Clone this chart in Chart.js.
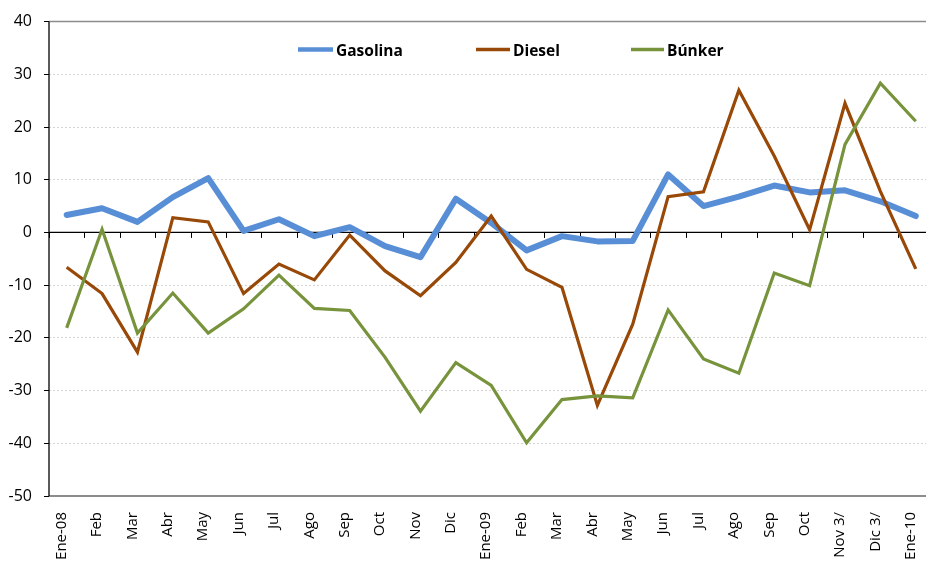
<!DOCTYPE html>
<html>
<head>
<meta charset="utf-8">
<script src="https://cdn.jsdelivr.net/npm/chart.js@4/dist/chart.umd.min.js"></script>
<style>
  html, body { margin: 0; padding: 0; background: #fff; overflow: hidden; width: 926px; height: 564px; }
  #wrap { width: 950px; height: 564px; position: relative; }
</style>
</head>
<body>
<div id="wrap"><canvas id="c" width="950" height="564"></canvas></div>
<script>
const categories = ["Ene-08","Feb","Mar","Abr","May","Jun","Jul","Ago","Sep","Oct","Nov","Dic",
  "Ene-09","Feb","Mar","Abr","May","Jun","Jul","Ago","Sep","Oct","Nov 3/","Dic 3/","Ene-10"];
const gasolina = [3.3, 4.6, 2.0, 6.7, 10.3, 0.3, 2.5, -0.7, 1.0, -2.6, -4.7, 6.4,
  1.8, -3.4, -0.7, -1.7, -1.6, 11.0, 5.0, 6.8, 8.9, 7.6, 8.0, 5.9, 3.1];
const diesel = [-6.6, -11.6, -22.7, 2.8, 2.0, -11.6, -6.0, -9.0, -0.5, -7.3, -12.0, -5.7,
  3.1, -7.0, -10.4, -32.8, -17.4, 6.8, 7.7, 27.0, 14.5, 0.5, 24.5, 7.8, -6.9];
const bunker = [-18.1, 0.6, -19.1, -11.5, -19.1, -14.5, -8.1, -14.4, -14.8, -23.7, -33.9, -24.7,
  -29.0, -39.9, -31.7, -31.0, -31.4, -14.7, -24.0, -26.7, -7.7, -10.1, 16.7, 28.3, 21.1];
const seriesNames = ["Gasolina", "Diesel", "Búnker"];
const yTicks = [40, 30, 20, 10, 0, -10, -20, -30, -40, -50];

const FONT = "'Open Sans', 'Noto Sans', sans-serif";
const legendPos = [{x1: 298, x2: 333, tx: 336}, {x1: 476, x2: 510, tx: 513}, {x1: 631, x2: 664, tx: 667}];
const legendY = 49.5;

const axesPlugin = {
  id: 'axesDeco',
  beforeDatasetsDraw(chart) {
    const {ctx, chartArea: a, scales: {x, y}} = chart;
    const right = chart.width;
    ctx.save();
    ctx.strokeStyle = '#8C8C8C'; ctx.lineWidth = 1.5;
    ctx.beginPath(); ctx.moveTo(a.left, y.getPixelForValue(40)); ctx.lineTo(right, y.getPixelForValue(40)); ctx.stroke();
    ctx.lineWidth = 2;
    ctx.beginPath(); ctx.moveTo(a.left, y.getPixelForValue(-50)); ctx.lineTo(right, y.getPixelForValue(-50)); ctx.stroke();
    const y0 = y.getPixelForValue(0);
    ctx.strokeStyle = '#000'; ctx.lineWidth = 1.3;
    ctx.beginPath(); ctx.moveTo(a.left, y0); ctx.lineTo(right, y0); ctx.stroke();
    ctx.lineWidth = 1;
    for (let i = 0; i <= categories.length; i++) {
      const px = Math.round(x.getPixelForValue(i - 0.5)) + 0.5;
      ctx.beginPath(); ctx.moveTo(px, y0); ctx.lineTo(px, y0 + 5.5); ctx.stroke();
    }
    ctx.lineWidth = 1.3;
    ctx.beginPath(); ctx.moveTo(a.left, y.getPixelForValue(40)); ctx.lineTo(a.left, y.getPixelForValue(-50)); ctx.stroke();
    ctx.restore();
  },
  afterDraw(chart) {
    const {ctx} = chart;
    ctx.save();
    chart.data.datasets.forEach((ds, i) => {
      const p = legendPos[i];
      ctx.strokeStyle = ds.borderColor;
      ctx.lineWidth = i === 0 ? 4.5 : 3.5;
      ctx.lineCap = 'butt';
      ctx.beginPath(); ctx.moveTo(p.x1, legendY); ctx.lineTo(p.x2, legendY); ctx.stroke();
      ctx.fillStyle = '#000';
      ctx.font = "bold 15.5px " + FONT;
      ctx.textBaseline = 'alphabetic';
      ctx.textAlign = 'left';
      ctx.fillText(ds.label, p.tx, legendY + 6);
    });
    ctx.restore();
  }
};

new Chart(document.getElementById('c'), {
  type: 'line',
  data: {
    labels: categories,
    datasets: [
      {label: seriesNames[0], data: gasolina, borderColor: '#578ED6', borderWidth: 6, order: 3,
       pointRadius: 0, tension: 0, borderJoinStyle: 'round', borderCapStyle: 'round'},
      {label: seriesNames[1], data: diesel, borderColor: '#984807', borderWidth: 3.2, order: 2,
       pointRadius: 0, tension: 0, borderJoinStyle: 'miter'},
      {label: seriesNames[2], data: bunker, borderColor: '#77933C', borderWidth: 3.2, order: 1,
       pointRadius: 0, tension: 0, borderJoinStyle: 'miter'}
    ]
  },
  options: {
    responsive: false,
    animation: false,
    devicePixelRatio: 1,
    layout: {padding: {top: 20, right: 12, left: 0, bottom: 0}},
    plugins: {legend: {display: false}, tooltip: {enabled: false}, title: {display: false}},
    scales: {
      x: {
        offset: true,
        grid: {display: false, drawTicks: false},
        border: {display: false},
        ticks: {
          autoSkip: false, maxRotation: 90, minRotation: 90, padding: 16, labelOffset: -5,
          color: '#000', font: {family: FONT, size: 15}
        },
        afterFit(s) { s.height = 68; }
      },
      y: {
        min: -50, max: 40,
        afterBuildTicks(s) { s.ticks = yTicks.map(v => ({value: v})); },
        grid: {
          color: (c) => ([0, 40, -50].includes(c.tick && c.tick.value) ? 'rgba(0,0,0,0)' : '#D4D4D4'),
          lineWidth: 1,
          tickColor: '#000',
          tickLength: 5,
          drawTicks: true
        },
        border: {display: false, dash: [2, 2]},
        ticks: {padding: 12, color: '#000', font: {family: FONT, size: 16}},
        afterFit(s) { s.width = 49; }
      }
    }
  },
  plugins: [axesPlugin]
});
</script>
</body>
</html>
